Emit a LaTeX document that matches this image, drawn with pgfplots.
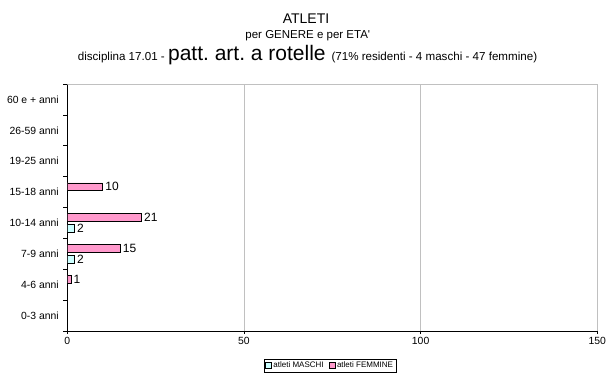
\documentclass[border=0pt]{standalone}
\usepackage{fontspec}
\setmainfont{Liberation Sans}
\usepackage{pgfplots}
\pgfplotsset{compat=1.18}
\definecolor{fpink}{HTML}{FF99CC}
\definecolor{mcyan}{HTML}{CCFFFF}
\definecolor{gridgray}{HTML}{C0C0C0}
\pgfplotsset{sqlegend/.style={legend image code/.code={\draw[##1] (0pt,-3pt) rectangle (6pt,3pt);}}}
\frenchspacing
\begin{document}
\begin{tikzpicture}
\useasboundingbox (-67.3pt,-45pt) rectangle (538.7pt,331pt);
\begin{axis}[
  at={(0pt,0pt)}, anchor=south west,
  scale only axis, width=530pt, height=247pt,
  xbar, bar width=7.5pt,
  xmin=0, xmax=150, ymin=-0.5, ymax=7.5,
  xtick={0,50,100,150},
  ytick={0,...,7},
  yticklabels={0-3 anni,4-6 anni,7-9 anni,10-14 anni,15-18 anni,19-25 anni,26-59 anni,60 e + anni},
  minor ytick={-0.5,0.5,...,7.5},
  axis x line*=bottom, axis y line*=left,
  axis line style={black,-, line width=0.7pt},
  tick align=outside,
  major tick length=3pt, minor tick length=4pt,
  every major y tick/.append style={draw=none},
  every minor y tick/.append style={black, line width=0.6pt},
  every major x tick/.append style={black, line width=0.6pt},
  xmajorgrids, grid style={gridgray, line width=0.6pt},
  tick label style={font=\fontsize{10.4}{12}\selectfont},
  /pgf/number format/assume math mode=true,
  yticklabel style={xshift=-2pt},
  nodes near coords={\fontsize{12}{14}\selectfont\pgfmathprintnumber{\pgfplotspointmeta}},
  every node near coord/.append style={anchor=west, inner sep=2.5pt},
  legend style={at={(0.4957,-0.1397)}, anchor=center, legend columns=2, draw=black,
    font=\fontsize{8}{9}\selectfont, inner sep=1pt,
    /tikz/every even column/.append style={column sep=3pt}},
  legend cell align=left,
]
\addplot[draw=black, fill=mcyan, bar shift=-5.5pt, sqlegend]
  coordinates {(2,2) (2,3)};
\addlegendentry{atleti MASCHI}
\addplot[draw=black, fill=fpink, bar shift=5.5pt, sqlegend]
  coordinates {(1,1) (15,2) (21,3) (10,4)};
\addlegendentry{atleti FEMMINE}
\draw[gridgray, line width=0.6pt] (rel axis cs:0,1) -- (rel axis cs:1,1);
\end{axis}
\node[anchor=base, font=\fontsize{14}{16}\selectfont] at (238.7pt,307.7pt) {ATLETI};
\node[anchor=base, font=\fontsize{11.5}{13}\selectfont] at (240.5pt,293pt) {per GENERE e per ETA\textquotesingle};
\node[anchor=base, inner sep=0pt] at (240.2pt,271pt) {\fontsize{11.6}{13}\selectfont disciplina 17.01 - \fontsize{21}{24}\selectfont patt. art. a rotelle \fontsize{11.6}{13}\selectfont(71\% residenti - 4 maschi - 47 femmine)};
\end{tikzpicture}
\end{document}
